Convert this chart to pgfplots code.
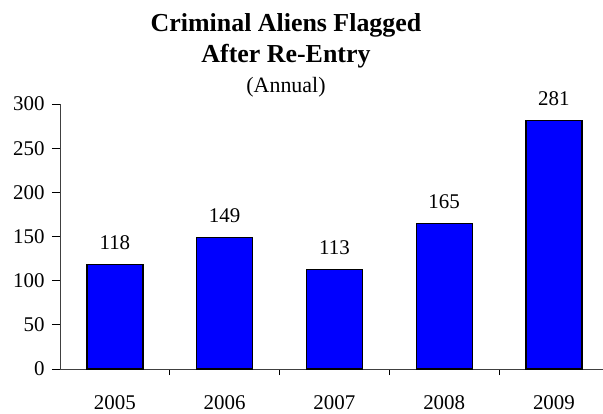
\documentclass[border=0pt]{standalone}
\usepackage{fontspec}
\setmainfont{Liberation Serif}
\usepackage{pgfplots}
\pgfplotsset{compat=1.18}
\begin{document}
\begin{tikzpicture}
\begin{axis}[
  at={(0,0)}, anchor=south west,
  scale only axis, width=543bp, height=265bp,
  xmin=-0.5, xmax=4.447, ymin=0, ymax=300,
  axis x line*=bottom, axis y line*=left,
  axis line style={draw=black!75, line width=0.8pt},
  ytick={0,50,...,300},
  xtick={0,1,2,3,4},
  xticklabels={2005,2006,2007,2008,2009},
  minor xtick={0.5,1.5,2.5,3.5},
  major x tick style={draw=none},
  tick align=outside,
  major tick length=8bp, minor tick length=6bp,
  tick style={black, line width=0.8pt},
  ticklabel style={font=\fontsize{21}{24}\selectfont},
  /pgf/number format/assume math mode=true,
  xticklabel style={yshift=-15bp},
  yticklabel style={xshift=-4bp},
  ybar, bar width=56bp, bar shift=0pt,
  nodes near coords,
  every node near coord/.append style={font=\fontsize{21}{24}\selectfont, yshift=11bp, black},
  clip=false,
]
\addplot[fill=blue, draw=black, line width=1.3pt] coordinates {(0,118) (1,149) (2,113) (3,165) (4,281)};
\end{axis}
\node[anchor=base, font=\bfseries\fontsize{26}{30}\selectfont] at (226bp,337bp) {Criminal Aliens Flagged};
\node[anchor=base, font=\bfseries\fontsize{26}{30}\selectfont] at (226bp,306bp) {After Re-Entry};
\node[anchor=base, font=\fontsize{22}{26}\selectfont] at (226bp,276bp) {(Annual)};
\pgfresetboundingbox
\path[use as bounding box] (-60bp,-45bp) rectangle (543bp,369bp);
\end{tikzpicture}
\end{document}
